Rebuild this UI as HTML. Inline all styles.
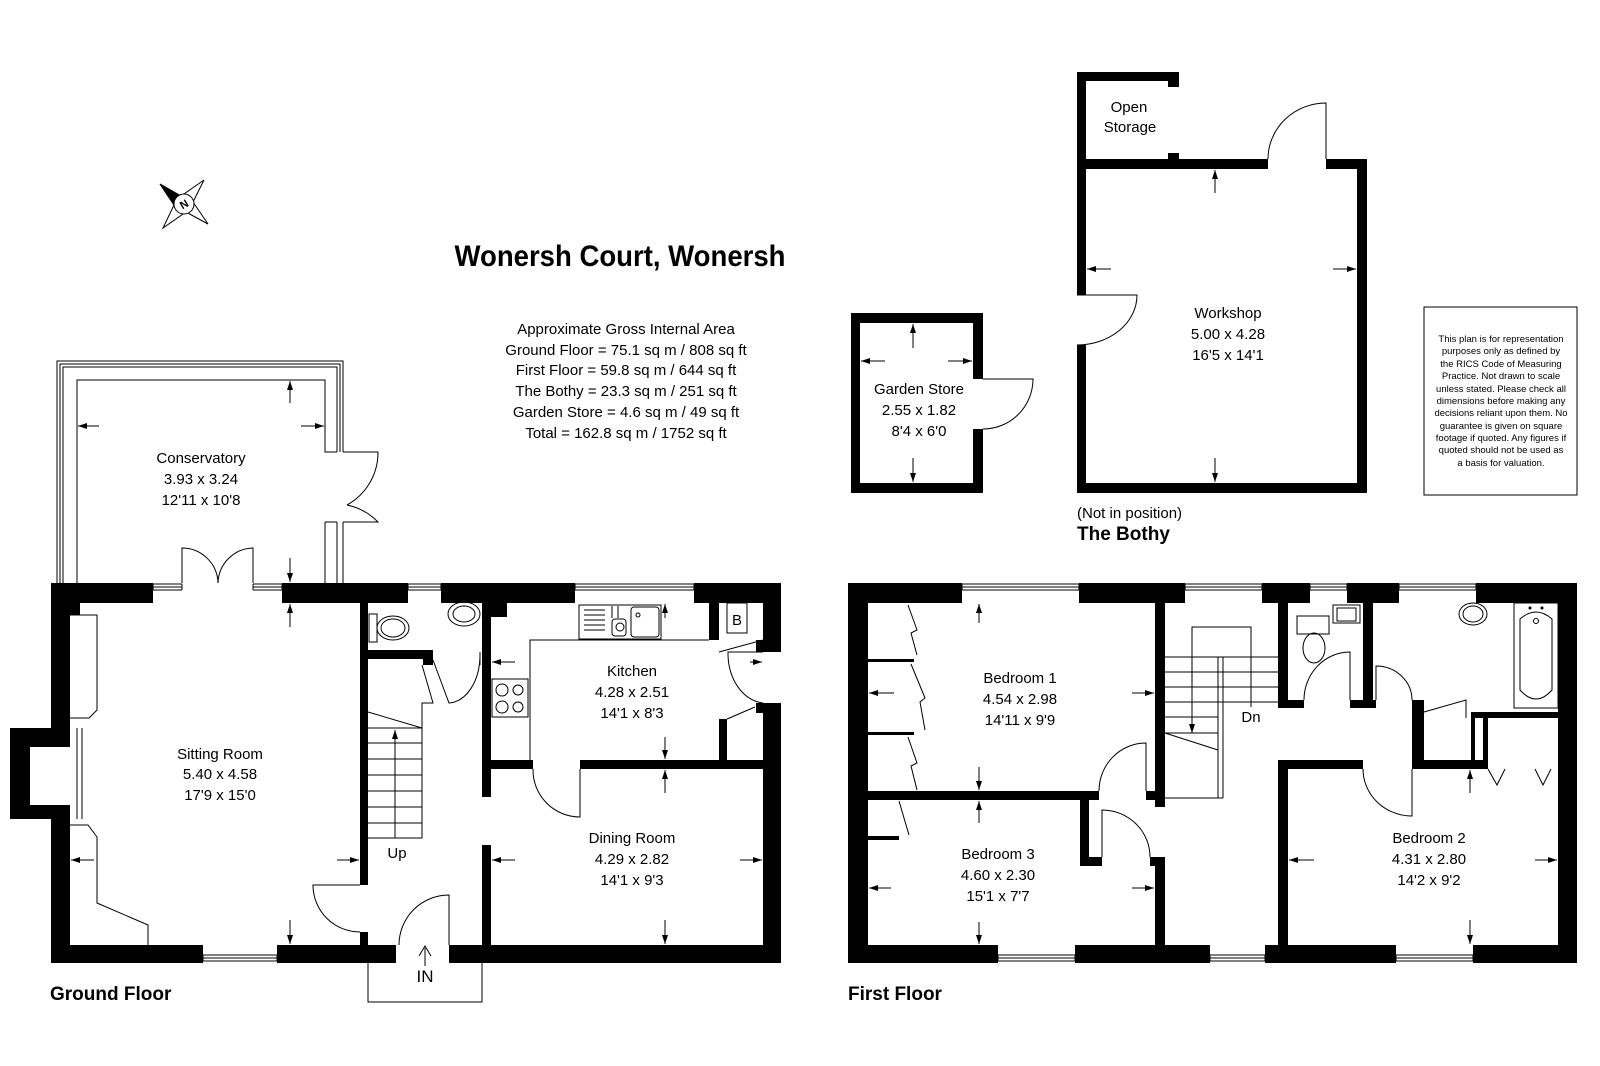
<!DOCTYPE html>
<html><head><meta charset="utf-8"><style>
html,body{margin:0;padding:0;background:#fff;}
svg{display:block;}
text{font-family:"Liberation Sans",Arial,sans-serif;fill:#000;}
</style></head><body>
<svg width="1600" height="1066" viewBox="0 0 1600 1066" xmlns="http://www.w3.org/2000/svg">
<defs>
<marker id="a" markerWidth="9" markerHeight="6" refX="9" refY="3" orient="auto" markerUnits="userSpaceOnUse"><path d="M0,0 L9,3 L0,6z" fill="#000"/></marker>
</defs>
<rect width="1600" height="1066" fill="#fff"/>

<!-- ================= GROUND FLOOR ================= -->
<g fill="#000">
<rect x="51" y="583" width="730" height="20"/>
<rect x="51" y="583" width="19" height="380"/>
<rect x="70" y="603" width="10" height="12"/>
<rect x="10" y="728" width="60" height="91"/>
<rect x="51" y="945" width="730" height="18"/>
<rect x="763" y="583" width="18" height="380"/>
<rect x="360" y="603" width="8" height="282"/>
<rect x="360" y="932" width="8" height="13"/>
<rect x="482" y="603" width="9" height="194"/>
<rect x="482" y="845" width="9" height="100"/>
<rect x="491" y="603" width="16" height="14"/>
<rect x="491" y="760" width="42" height="9"/>
<rect x="580" y="760" width="183" height="9"/>
<rect x="368" y="650" width="65" height="9"/>
<rect x="423" y="659" width="10" height="6"/>
<rect x="709" y="603" width="10" height="37"/>
<rect x="719" y="719" width="8" height="41"/>
<rect x="756" y="640" width="7" height="12"/>
<rect x="756" y="703" width="7" height="10"/>
</g>
<g fill="#fff">
<rect x="30" y="747" width="40" height="58"/>
<rect x="182" y="582" width="71" height="22"/>
<rect x="396" y="944" width="53" height="20"/>
<rect x="762" y="652" width="20" height="51"/>
<rect x="153" y="582" width="29" height="22"/><rect x="253" y="582" width="29" height="22"/>
<rect x="408" y="582" width="33" height="22"/><rect x="575" y="582" width="119" height="22"/>
<rect x="203" y="944" width="74" height="20"/>
</g>
<g fill="none" stroke="#000" stroke-width="1">
<!-- GF windows -->
<path d="M153,584H182M153,587H182M153,590H182M153,584V590M182,584V590"/>
<path d="M253,584H282M253,587H282M253,590H282M253,584V590M282,584V590"/>
<path d="M408,584H441M408,587H441M408,590H441M408,584V590M441,584V590"/>
<path d="M575,584H694M575,587H694M575,590H694M575,584V590M694,584V590"/>
<path d="M203,961H277M203,958H277M203,955H277M203,955V961M277,955V961"/>
<!-- chimney hearth lines -->
<path d="M77,728V819M82,728V819"/>
<!-- sitting room fitted units -->
<path d="M70,615H97V710L89,718H70"/>
<path d="M70,825H88L97,837V903L148,925V945"/>
<!-- sitting room door -->
<path d="M360,885H313A47,47 0 0 0 360,932"/>
<!-- entrance door -->
<path d="M449,945V895A50,50 0 0 0 399,945"/>
<!-- porch -->
<path d="M368,963V1002H482V963"/>
<!-- conservatory -->
<path d="M57,583V361H343V452M60,583V364H340V452M63,583V367H337V452"/>
<path d="M77,583V380H325V452H337"/>
<path d="M343,522V583M337,522V583M325,522V583M325,522H337"/>
<path d="M343,452H378A60,60 0 0 1 347,505M343,522H378A60,60 0 0 0 347,505"/>
<path d="M182,583V548A36,36 0 0 1 218,583M253,583V548A36,36 0 0 0 218,583"/>
<!-- kitchen worktop -->
<path d="M530,760V640H709"/>
<!-- sink -->
<rect x="579" y="605" width="82" height="34"/>
<path d="M584,610H605M584,615H605M584,620H605M584,625H605M584,630H605"/>
<rect x="631" y="607" width="28" height="30" rx="3"/>
<rect x="612" y="619" width="14" height="17" rx="3"/>
<circle cx="620" cy="627" r="4"/><circle cx="638" cy="615" r="2"/>
<path d="M612,606V618M618,606V618"/>
<!-- hob -->
<rect x="492" y="679" width="36" height="38"/>
<circle cx="502" cy="690" r="6"/><circle cx="518" cy="690" r="5"/><circle cx="502" cy="707" r="6"/><circle cx="518" cy="707" r="5"/>
<!-- boiler -->
<rect x="727" y="603" width="20" height="30"/>
<path d="M719,652L763,640M727,719L755,707"/>
<!-- kitchen door -->
<path d="M580,769V817A47,47 0 0 1 533,769"/>
<!-- back door -->
<path d="M763,652H728A38,50 0 0 0 763,703"/>
<!-- WC -->
<rect x="369" y="614" width="8" height="28"/>
<ellipse cx="393" cy="628" rx="16" ry="12"/>
<ellipse cx="393" cy="628" rx="12" ry="9"/>
<ellipse cx="464" cy="614" rx="16" ry="12"/>
<ellipse cx="464" cy="614" rx="11" ry="8"/>
<path d="M433,660L449,703A32,48 0 0 0 480,655"/>
<path d="M480,652V665"/>
<!-- stairs -->
<path d="M368,712L422,728V838H368M368,728H422M368,743H422M368,759H422M368,775H422M368,791H422M368,807H422M368,823H422"/>
<path d="M422,665L433,703H422V728"/>
</g>
<line x1="395" y1="838" x2="395" y2="730" stroke="#000" marker-end="url(#a)"/>
<line x1="425" y1="966" x2="425" y2="948" stroke="#000" stroke-width="1"/>
<path d="M419,956L425,946L431,956" fill="none" stroke="#000"/>
<g stroke="#000" stroke-width="1">
<!-- conservatory arrows -->
<line x1="290" y1="403" x2="290" y2="381" marker-end="url(#a)"/>
<line x1="290" y1="558" x2="290" y2="582" marker-end="url(#a)"/>
<line x1="99" y1="426" x2="78" y2="426" marker-end="url(#a)"/>
<line x1="301" y1="426" x2="324" y2="426" marker-end="url(#a)"/>
<!-- sitting -->
<line x1="290" y1="627" x2="290" y2="604" marker-end="url(#a)"/>
<line x1="290" y1="920" x2="290" y2="944" marker-end="url(#a)"/>
<line x1="94" y1="860" x2="71" y2="860" marker-end="url(#a)"/>
<line x1="337" y1="860" x2="359" y2="860" marker-end="url(#a)"/>
<!-- kitchen -->
<line x1="665" y1="618" x2="665" y2="604" marker-end="url(#a)"/>
<line x1="665" y1="737" x2="665" y2="759" marker-end="url(#a)"/>
<line x1="515" y1="662" x2="492" y2="662" marker-end="url(#a)"/>
<line x1="750" y1="662" x2="762" y2="662" marker-end="url(#a)"/>
<!-- dining -->
<line x1="665" y1="793" x2="665" y2="770" marker-end="url(#a)"/>
<line x1="665" y1="920" x2="665" y2="944" marker-end="url(#a)"/>
<line x1="515" y1="860" x2="492" y2="860" marker-end="url(#a)"/>
<line x1="740" y1="860" x2="762" y2="860" marker-end="url(#a)"/>
</g>
<g font-size="15" text-anchor="middle">
<text x="201" y="463">Conservatory</text><text x="201" y="484">3.93 x 3.24</text><text x="201" y="505">12'11 x 10'8</text>
<text x="220" y="759">Sitting Room</text><text x="220" y="779">5.40 x 4.58</text><text x="220" y="800">17'9 x 15'0</text>
<text x="632" y="676">Kitchen</text><text x="632" y="697">4.28 x 2.51</text><text x="632" y="718">14'1 x 8'3</text>
<text x="632" y="843">Dining Room</text><text x="632" y="864">4.29 x 2.82</text><text x="632" y="885">14'1 x 9'3</text>
<text x="397" y="858">Up</text>
<text x="425" y="982" font-size="17">IN</text>
<text x="737" y="625">B</text>
</g>
<text x="50" y="1000" font-size="19" font-weight="bold">Ground Floor</text>

<!-- ================= FIRST FLOOR ================= -->
<g fill="#000">
<rect x="848" y="583" width="729" height="20"/>
<rect x="848" y="945" width="729" height="18"/>
<rect x="848" y="583" width="20" height="380"/>
<rect x="1558" y="583" width="19" height="380"/>
<rect x="1155" y="603" width="10" height="204"/>
<rect x="868" y="791" width="231" height="9"/>
<rect x="1146" y="791" width="19" height="9"/>
<rect x="1080" y="800" width="9" height="66"/>
<rect x="1080" y="857" width="22" height="9"/>
<rect x="1150" y="857" width="15" height="9"/>
<rect x="1155" y="857" width="10" height="88"/>
<rect x="1278" y="760" width="10" height="185"/>
<rect x="1278" y="760" width="85" height="9"/>
<rect x="1412" y="760" width="76" height="9"/>
<rect x="1278" y="603" width="10" height="105"/>
<rect x="1278" y="700" width="26" height="8"/>
<rect x="1363" y="603" width="10" height="105"/>
<rect x="1350" y="700" width="26" height="8"/>
<rect x="1412" y="700" width="12" height="60"/>
<rect x="1471" y="712" width="4" height="48"/>
<rect x="1473" y="712" width="85" height="6"/>
<rect x="1483" y="718" width="5" height="47"/>
<rect x="868" y="659" width="46" height="3"/>
<rect x="868" y="732" width="46" height="3"/>
<rect x="868" y="836" width="31" height="4"/>
</g>
<g fill="#fff">
<rect x="962" y="582" width="117" height="22"/><rect x="1185" y="582" width="77" height="22"/>
<rect x="1310" y="582" width="37" height="22"/><rect x="1399" y="582" width="77" height="22"/>
<rect x="998" y="944" width="77" height="20"/><rect x="1210" y="944" width="55" height="20"/><rect x="1396" y="944" width="77" height="20"/>
</g>
<g fill="none" stroke="#000" stroke-width="1">
<path d="M962,584H1079M962,587H1079M962,590H1079M962,584V590M1079,584V590"/>
<path d="M1185,584H1262M1185,587H1262M1185,590H1262M1185,584V590M1262,584V590"/>
<path d="M1310,584H1347M1310,587H1347M1310,590H1347M1310,584V590M1347,584V590"/>
<path d="M1399,584H1476M1399,587H1476M1399,590H1476M1399,584V590M1476,584V590"/>
<path d="M998,961H1075M998,958H1075M998,955H1075M998,955V961M1075,955V961"/>
<path d="M1210,961H1265M1210,958H1265M1210,955H1265M1210,955V961M1265,955V961"/>
<path d="M1396,961H1473M1396,958H1473M1396,955H1473M1396,955V961M1473,955V961"/>
<!-- wardrobe folding doors -->
<path d="M908,605L917,630L911,633L917,655"/>
<path d="M911,664L925,698L920,702L925,730"/>
<path d="M908,737L917,763L911,766L917,790"/>
<path d="M899,801L909,835"/>
<!-- doors -->
<path d="M1146,791V743A47,48 0 0 0 1099,791"/>
<path d="M1102,857V810A48,47 0 0 1 1150,857"/>
<path d="M1412,769V816A49,47 0 0 1 1363,769"/>
<path d="M1350,700V652A46,48 0 0 0 1304,700"/>
<path d="M1376,700V666A36,34 0 0 1 1412,700"/>
<path d="M1424,712L1466,700V718"/>
<!-- bed2 cupboard doors -->
<path d="M1488,769L1497,785L1505,769M1535,769L1543,785L1551,769"/>
<!-- stairs -->
<path d="M1165,657H1278M1165,672H1278M1165,687H1278M1165,702H1278M1165,717H1218M1165,733H1218"/>
<path d="M1192,707V627H1251V707"/>
<path d="M1218,657V798M1223,657V798M1165,798H1223M1165,733L1218,750"/>
<!-- WC & basin -->
<rect x="1297" y="616" width="32" height="18"/>
<ellipse cx="1314" cy="648" rx="11" ry="15"/>
<rect x="1333" y="605" width="27" height="18"/>
<rect x="1337" y="608" width="19" height="13"/>
<ellipse cx="1473" cy="614" rx="14" ry="11"/>
<ellipse cx="1473" cy="614" rx="10" ry="8"/>
<!-- bath -->
<rect x="1514" y="603" width="44" height="105"/>
<path d="M1520,619Q1536,605 1552,619V690Q1536,708 1520,690Z"/>
<circle cx="1536" cy="621" r="2.5"/>
</g>
<circle cx="1530" cy="608" r="1.5"/><circle cx="1542" cy="608" r="1.5"/>
<line x1="1192" y1="707" x2="1192" y2="733" stroke="#000" marker-end="url(#a)"/>
<g stroke="#000" stroke-width="1">
<line x1="979" y1="623" x2="979" y2="604" marker-end="url(#a)"/>
<line x1="979" y1="767" x2="979" y2="790" marker-end="url(#a)"/>
<line x1="894" y1="693" x2="869" y2="693" marker-end="url(#a)"/>
<line x1="1132" y1="693" x2="1154" y2="693" marker-end="url(#a)"/>
<line x1="979" y1="823" x2="979" y2="801" marker-end="url(#a)"/>
<line x1="979" y1="922" x2="979" y2="944" marker-end="url(#a)"/>
<line x1="891" y1="888" x2="869" y2="888" marker-end="url(#a)"/>
<line x1="1132" y1="888" x2="1154" y2="888" marker-end="url(#a)"/>
<line x1="1470" y1="793" x2="1470" y2="770" marker-end="url(#a)"/>
<line x1="1470" y1="920" x2="1470" y2="944" marker-end="url(#a)"/>
<line x1="1314" y1="860" x2="1289" y2="860" marker-end="url(#a)"/>
<line x1="1535" y1="860" x2="1557" y2="860" marker-end="url(#a)"/>
</g>
<g font-size="15" text-anchor="middle">
<text x="1020" y="683">Bedroom 1</text><text x="1020" y="704">4.54 x 2.98</text><text x="1020" y="725">14'11 x 9'9</text>
<text x="998" y="859">Bedroom 3</text><text x="998" y="880">4.60 x 2.30</text><text x="998" y="901">15'1 x 7'7</text>
<text x="1429" y="843">Bedroom 2</text><text x="1429" y="864">4.31 x 2.80</text><text x="1429" y="885">14'2 x 9'2</text>
<text x="1251" y="722">Dn</text>
</g>
<text x="848" y="1000" font-size="19" font-weight="bold">First Floor</text>

<!-- ================= BOTHY ================= -->
<g fill="#000">
<rect x="1077" y="72" width="9" height="223"/>
<rect x="1077" y="345" width="9" height="148"/>
<rect x="1077" y="159" width="191" height="10"/>
<rect x="1326" y="159" width="41" height="10"/>
<rect x="1357" y="159" width="10" height="334"/>
<rect x="1077" y="483" width="290" height="10"/>
<rect x="1077" y="72" width="102" height="9"/>
<rect x="1168" y="72" width="11" height="15"/>
<rect x="1168" y="153" width="11" height="6"/>
<rect x="851" y="313" width="9" height="180"/>
<rect x="851" y="313" width="132" height="10"/>
<rect x="973" y="313" width="10" height="66"/>
<rect x="973" y="429" width="10" height="64"/>
<rect x="851" y="483" width="132" height="10"/>
</g>
<g fill="none" stroke="#000" stroke-width="1">
<path d="M1326,159V103A58,56 0 0 0 1268,159"/>
<path d="M1077,295H1137A60,50 0 0 1 1077,345"/>
<path d="M983,379H1033A50,50 0 0 1 983,429"/>
<rect x="1424" y="307" width="153" height="188"/>
</g>
<g stroke="#000" stroke-width="1">
<line x1="1215" y1="193" x2="1215" y2="170" marker-end="url(#a)"/>
<line x1="1215" y1="458" x2="1215" y2="482" marker-end="url(#a)"/>
<line x1="1111" y1="269" x2="1087" y2="269" marker-end="url(#a)"/>
<line x1="1333" y1="269" x2="1356" y2="269" marker-end="url(#a)"/>
<line x1="913" y1="348" x2="913" y2="324" marker-end="url(#a)"/>
<line x1="913" y1="458" x2="913" y2="482" marker-end="url(#a)"/>
<line x1="885" y1="361" x2="861" y2="361" marker-end="url(#a)"/>
<line x1="948" y1="361" x2="972" y2="361" marker-end="url(#a)"/>
</g>
<g font-size="15" text-anchor="middle">
<text x="1129" y="112">Open</text><text x="1130" y="132">Storage</text>
<text x="1228" y="318">Workshop</text><text x="1228" y="339">5.00 x 4.28</text><text x="1228" y="360">16'5 x 14'1</text>
<text x="919" y="394">Garden Store</text><text x="919" y="415">2.55 x 1.82</text><text x="919" y="436">8'4 x 6'0</text>
</g>
<text x="1077" y="518" font-size="15">(Not in position)</text>
<text x="1077" y="540" font-size="19" font-weight="bold">The Bothy</text>
<g font-size="9.5" text-anchor="middle">
<text x="1501" y="342">This plan is for representation</text>
<text x="1501" y="354">purposes only as defined by</text>
<text x="1501" y="367">the RICS Code of Measuring</text>
<text x="1501" y="379">Practice. Not drawn to scale</text>
<text x="1501" y="392">unless stated. Please check all</text>
<text x="1501" y="404">dimensions before making any</text>
<text x="1501" y="416">decisions reliant upon them. No</text>
<text x="1501" y="429">guarantee is given on square</text>
<text x="1501" y="441">footage if quoted. Any figures if</text>
<text x="1501" y="453">quoted should not be used as</text>
<text x="1501" y="466">a basis for valuation.</text>
</g>

<!-- ================= TITLE / AREAS ================= -->
<text x="620" y="266" font-size="30" font-weight="bold" text-anchor="middle" textLength="331" lengthAdjust="spacingAndGlyphs">Wonersh Court, Wonersh</text>
<g font-size="15" text-anchor="middle">
<text x="626" y="334">Approximate Gross Internal Area</text>
<text x="626" y="355">Ground Floor = 75.1 sq m / 808 sq ft</text>
<text x="626" y="375">First Floor = 59.8 sq m / 644 sq ft</text>
<text x="626" y="396">The Bothy = 23.3 sq m / 251 sq ft</text>
<text x="626" y="417">Garden Store = 4.6 sq m / 49 sq ft</text>
<text x="626" y="438">Total = 162.8 sq m / 1752 sq ft</text>
</g>

<!-- compass -->
<g stroke="#000" stroke-width="1" fill="#fff">
<polygon points="160,184 181,196 204,180 193,202 208,224 186,212 163,228 174,205"/>
<polygon points="160,184 181,196 174,205" fill="#000"/>
<circle cx="184" cy="204" r="10"/>
</g>
<text x="184" y="208" font-size="11" font-weight="bold" text-anchor="middle" transform="rotate(-30 184 204)">N</text>
</svg>
</body></html>
